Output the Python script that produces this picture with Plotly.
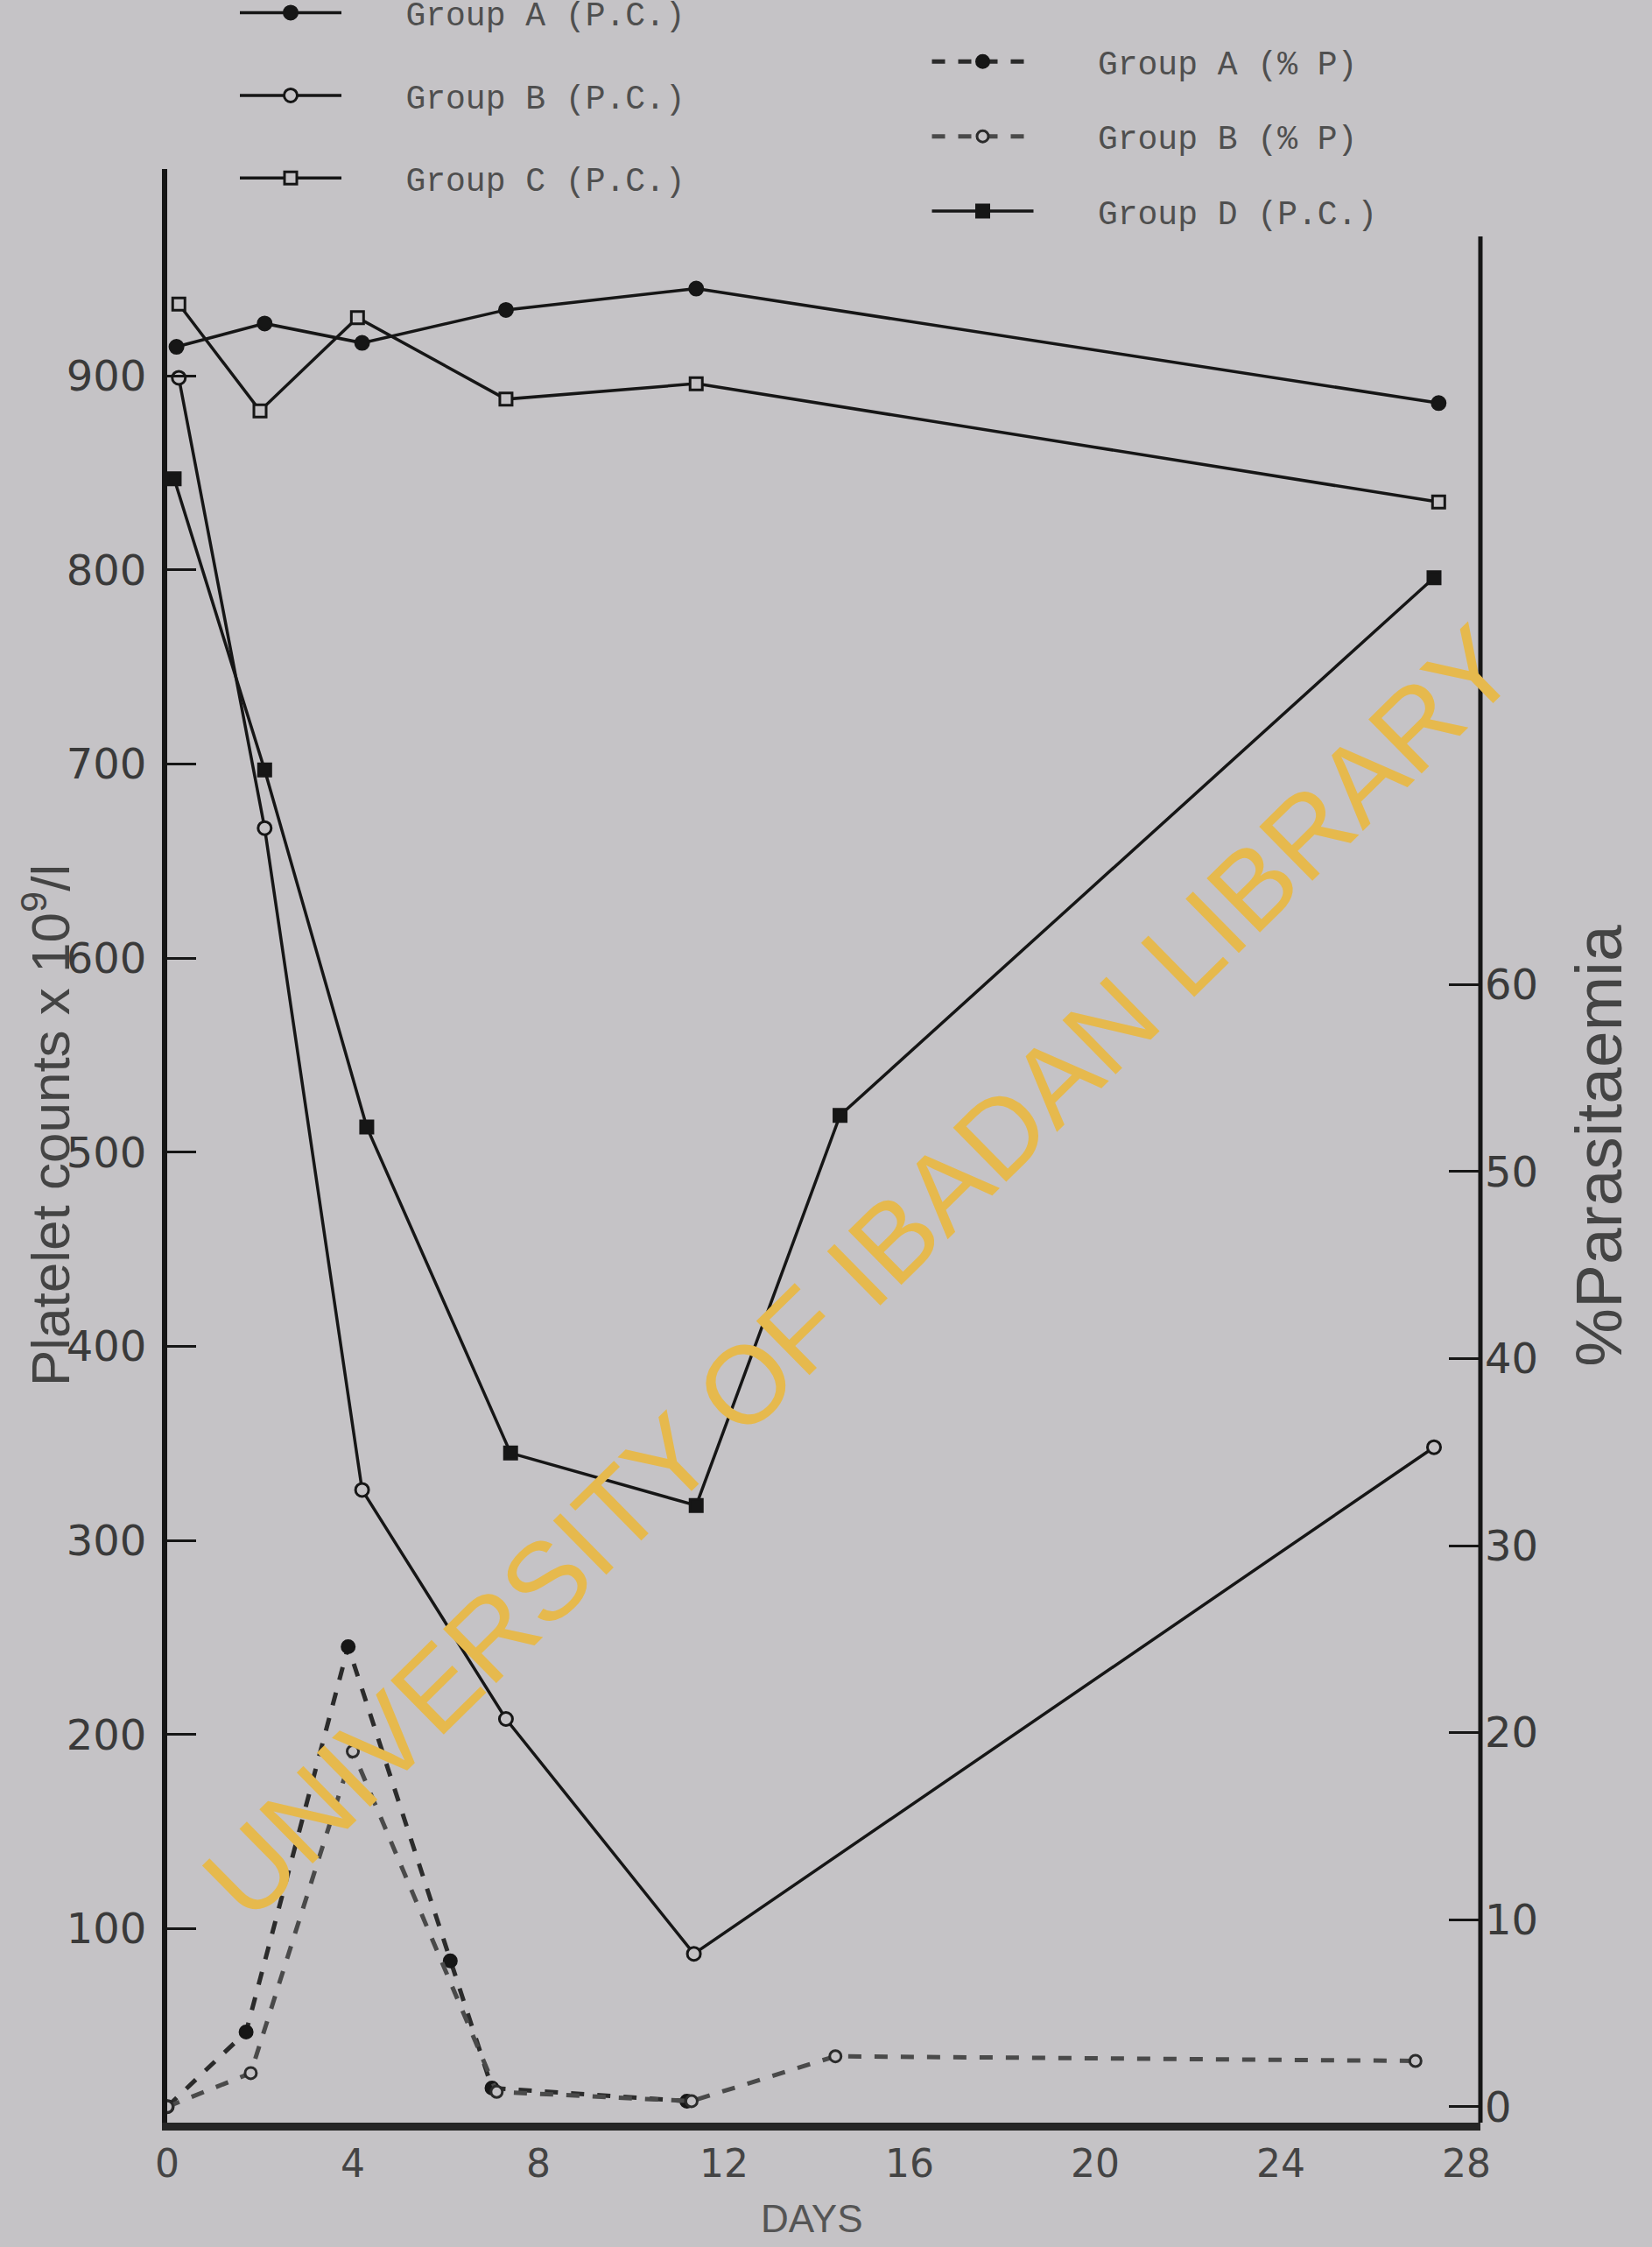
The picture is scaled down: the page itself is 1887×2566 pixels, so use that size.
import plotly.graph_objects as go

# ---------------- data ----------------
days_ticks = [0, 4, 8, 12, 16, 20, 24, 28]
pc_ticks = [100, 200, 300, 400, 500, 600, 700, 800, 900]
para_ticks = [0, 10, 20, 30, 40, 50, 60]

grpA_pc_days = [0.2, 2.1, 4.2, 7.3, 11.4, 27.4]
grpA_pc = [915, 927, 917, 934, 945, 886]

grpB_pc_days = [0.25, 2.1, 4.2, 7.3, 11.35, 27.3]
grpB_pc = [899, 667, 326, 208, 87, 348]

grpC_pc_days = [0.25, 2.0, 4.1, 7.3, 11.4, 27.4]
grpC_pc = [937, 882, 930, 888, 896, 835]

grpD_pc_days = [0.15, 2.1, 4.3, 7.4, 11.4, 14.5, 27.3]
grpD_pc = [847, 697, 513, 345, 318, 519, 796]

grpA_p_days = [0.0, 1.7, 3.9, 6.1, 7.0, 11.2]
grpA_p = [0.0, 4.0, 24.6, 7.8, 1.0, 0.3]

grpB_p_days = [0.0, 1.8, 4.0, 7.1, 11.3, 14.4, 26.9]
grpB_p = [0.0, 1.8, 19.0, 0.8, 0.3, 2.7, 2.45]

# ---------------- styling ----------------
PAPER = "#c5c3c6"
INK = "#161616"
GREY_TXT = "#4f4f4f"
PAD = "\u00a0\u00a0\u00a0"

fig = go.Figure()

def pc_trace(x, y, name, symbol, filled, legend, grp):
    return go.Scatter(
        x=x, y=y, name=PAD + name, mode="lines+markers",
        line=dict(color=INK, width=3.5),
        marker=dict(symbol=symbol, size=15 if symbol == "circle" else 14,
                    color=INK if filled else PAPER,
                    line=dict(color=INK, width=3)),
        legend=legend, legendgroup=grp, yaxis="y",
    )

fig.add_trace(pc_trace(grpA_pc_days, grpA_pc, "Group A (P.C.)", "circle", True, "legend", "a"))
fig.add_trace(pc_trace(grpB_pc_days, grpB_pc, "Group B (P.C.)", "circle", False, "legend", "b"))
fig.add_trace(pc_trace(grpC_pc_days, grpC_pc, "Group C (P.C.)", "square", False, "legend", "c"))

fig.add_trace(go.Scatter(
    x=grpA_p_days, y=grpA_p, name=PAD + "Group A (% P)", mode="lines+markers",
    line=dict(color="#2b2b2b", width=5, dash="dash"),
    marker=dict(symbol="circle", size=15, color=INK, line=dict(color=INK, width=2)),
    legend="legend2", legendgroup="ap", yaxis="y2"))
fig.add_trace(go.Scatter(
    x=grpB_p_days, y=grpB_p, name=PAD + "Group B (% P)", mode="lines+markers",
    line=dict(color="#4a4a4a", width=5, dash="dash"),
    marker=dict(symbol="circle", size=13, color=PAPER, line=dict(color="#2b2b2b", width=3)),
    legend="legend2", legendgroup="bp", yaxis="y2"))
fig.add_trace(pc_trace(grpD_pc_days, grpD_pc, "Group D (P.C.)", "square", True, "legend2", "d"))

W, H = 1887, 2566
L, R, T, B = 191, 196, 193, 142

fig.update_layout(
    width=W, height=H,
    margin=dict(l=L, r=R, t=T, b=B, autoexpand=False),
    paper_bgcolor=PAPER, plot_bgcolor=PAPER,
    font=dict(family="DejaVu Sans", color="#3a3a3a"),
    xaxis=dict(range=[0, 28.3], tickvals=days_ticks, ticks="", showgrid=False,
               zeroline=False, showline=True, linewidth=9, linecolor="#262626",
               tickfont=dict(size=44, color="#444444", family="DejaVu Sans"),
               ticklabelstandoff=0),
    yaxis=dict(range=[0, 1006.6], tickvals=pc_ticks, ticks="inside", ticklen=33,
               tickwidth=3, tickcolor=INK, showgrid=False, zeroline=False,
               showline=True, linewidth=6, linecolor=INK,
               tickfont=dict(size=48, color="#3a3a3a", family="DejaVu Sans"),
               ticklabelstandoff=8),
    yaxis2=dict(range=[-0.85, 103.6], tickvals=para_ticks, ticks="inside", ticklen=36,
                tickwidth=3, tickcolor=INK, overlaying="y", side="right",
                showgrid=False, zeroline=False, showline=False,
                tickfont=dict(size=48, color="#3a3a3a", family="DejaVu Sans"),
                ticklabelstandoff=4),
    legend=dict(x=0.052, y=1.094, xanchor="left", yanchor="top",
                bgcolor="rgba(0,0,0,0)", itemwidth=116, traceorder="grouped",
                tracegroupgap=42,
                font=dict(family="Liberation Mono", size=38, color=GREY_TXT)),
    legend2=dict(x=0.579, y=1.069, xanchor="left", yanchor="top",
                 bgcolor="rgba(0,0,0,0)", itemwidth=116, traceorder="grouped",
                 tracegroupgap=33,
                 font=dict(family="Liberation Mono", size=38, color=GREY_TXT)),
)

# right-hand axis line (only up to 100 %)
fig.add_shape(type="line", xref="paper", yref="y2", x0=1, x1=1, y0=-0.85, y1=100,
              line=dict(color=INK, width=5))

# axis titles
fig.add_annotation(text="Platelet counts x 10<sup>9</sup>/l", xref="paper", yref="paper",
                   x=-0.092, y=0.5105, xanchor="center", yanchor="middle",
                   textangle=-90, showarrow=False,
                   font=dict(family="Liberation Sans", size=62, color="#444444"))
fig.add_annotation(text="%Parasitaemia", xref="paper", yref="paper",
                   x=1.0895, y=0.5, xanchor="center", yanchor="middle",
                   textangle=-90, showarrow=False,
                   font=dict(family="Liberation Sans", size=75, color="#444444"))
fig.add_annotation(text="DAYS", xref="paper", yref="paper",
                   x=0.491, y=-0.049, xanchor="center", yanchor="middle", showarrow=False,
                   font=dict(family="Liberation Sans", size=44, color="#555555"))

# watermark
fig.add_annotation(text="UNIVERSITY OF IBADAN LIBRARY", xref="paper", yref="paper",
                   x=0.527, y=0.435, xanchor="center", yanchor="middle",
                   textangle=-44.5, showarrow=False,
                   font=dict(family="Liberation Sans", size=126, color="#e6b94d"))

fig.write_html(
    "out.html",
    config={"displayModeBar": False},
    post_script="document.body.style.margin='0';document.body.style.background='#c5c3c6';",
)
